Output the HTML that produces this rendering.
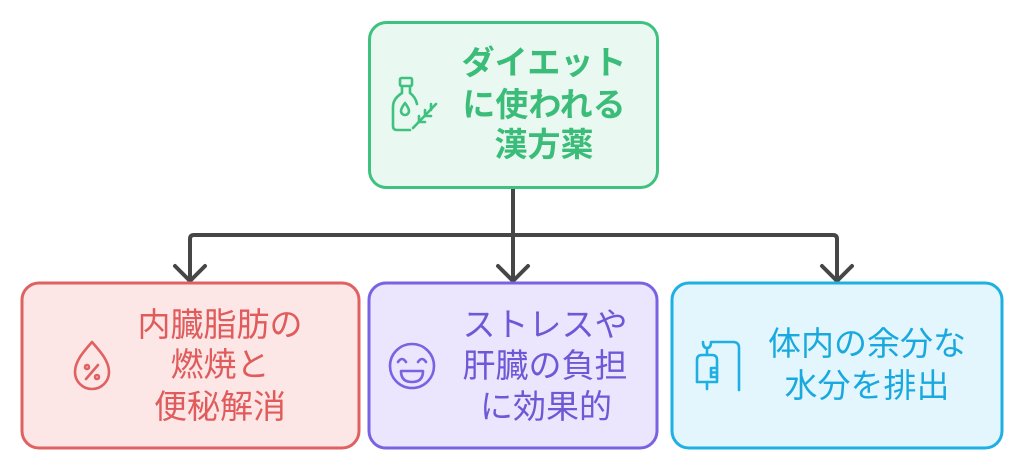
<!DOCTYPE html>
<html>
<head>
<meta charset="utf-8">
<style>
html,body{margin:0;padding:0;background:#ffffff;}
svg{display:block;}
text{font-family:"Liberation Sans","Noto Sans CJK JP",sans-serif;font-size:33px;}
</style>
</head>
<body>
<svg width="1024" height="475" viewBox="0 0 1024 475" xmlns="http://www.w3.org/2000/svg">
  <!-- connectors -->
  <g fill="none" stroke="#464646" stroke-width="4" stroke-linejoin="round" stroke-linecap="round">
    <line x1="513" y1="188" x2="513" y2="280"/>
    <path d="M190 280 V239 Q190 235 194 235 H833 Q837 235 837 239 V280"/>
    <polyline points="175,266 190,281 205,266"/>
    <polyline points="498,266 513,281 528,266"/>
    <polyline points="822,266 837,281 852,266"/>
  </g>

  <!-- top box -->
  <rect x="369.5" y="22.5" width="288" height="165" rx="17" fill="#e9f9f1" stroke="#3fc17f" stroke-width="3"/>
  <g fill="#3bbd79" font-weight="bold" text-anchor="middle">
    <text x="544" y="74">ダイエット</text>
    <text x="544" y="116">に使われる</text>
    <text x="544" y="156">漢方薬</text>
  </g>
  <!-- bottle icon -->
  <g fill="none" stroke="#3fc17f" stroke-width="2.6" stroke-linecap="round" stroke-linejoin="round">
    <rect x="400" y="78" width="12" height="8" rx="1.5"/>
    <path d="M402 86 V93 C396 97 393 101 393 107 V126 Q393 130 397 130 H410"/>
    <path d="M410 86 V93 C414 96 416 99 417 104"/>
    <path d="M405 103 C402 107 401 109 401 111 A4 4 0 0 0 409 111 C409 109 408 107 405 103 Z"/>
    <path d="M413 128 L436 104"/>
    <path d="M419 122 L419 116 M419 122 L425 122"/>
    <path d="M425 116 L425 110 M425 116 L431 116"/>
    <path d="M431 110 L431 104"/>
  </g>

  <!-- red box -->
  <rect x="22" y="283" width="337" height="165" rx="17" fill="#fde6e6" stroke="#e06161" stroke-width="3"/>
  <g fill="#e05b5b" text-anchor="middle">
    <text x="220" y="336">内臓脂肪の</text>
    <text x="220" y="376">燃焼と</text>
    <text x="220" y="418">便秘解消</text>
  </g>
  <g fill="none" stroke="#e06161" stroke-width="2.6" stroke-linecap="round" stroke-linejoin="round">
    <path d="M92 342 C86 349 75 360 75 372 A17 17 0 0 0 109 372 C109 360 98 349 92 342 Z"/>
    <circle cx="87" cy="367" r="2"/>
    <circle cx="97" cy="377" r="2"/>
    <line x1="98" y1="365" x2="86" y2="379"/>
  </g>

  <!-- purple box -->
  <rect x="369" y="283" width="288" height="165" rx="17" fill="#ebe6fd" stroke="#7a63e2" stroke-width="3"/>
  <g fill="#6f58d6" text-anchor="middle">
    <text x="545" y="336">ストレスや</text>
    <text x="545" y="377">肝臓の負担</text>
    <text x="546" y="418">に効果的</text>
  </g>
  <g fill="none" stroke="#7a63e2" stroke-width="2.6" stroke-linecap="round" stroke-linejoin="round">
    <circle cx="412" cy="366" r="22"/>
    <path d="M398 362 Q402 356 406 362"/>
    <path d="M418 362 Q422 356 426 362"/>
    <path d="M401 371 H423 Q423 382 412 382 Q401 382 401 371 Z"/>
  </g>

  <!-- blue box -->
  <rect x="672" y="283" width="330" height="165" rx="17" fill="#e3f6fd" stroke="#1eb0e2" stroke-width="3"/>
  <g fill="#1aa9de" text-anchor="middle">
    <text x="867" y="355">体内の余分な</text>
    <text x="867" y="397">水分を排出</text>
  </g>
  <g fill="none" stroke="#1eb0e2" stroke-width="2.6" stroke-linecap="round" stroke-linejoin="round">
    <path d="M703 342 Q703 348 707 348 Q711 348 711 342 H733 Q739 342 739 348 V390"/>
    <line x1="707" y1="348" x2="707" y2="355"/>
    <path d="M697 382 V360 Q697 355 702 355 H712 Q717 355 717 360 V382 Z"/>
    <line x1="707" y1="382" x2="707" y2="389"/>
    <path d="M711 368 H717 M711 372.5 H717 M711 377 H717 M711 368 V377"/>
  </g>
</svg>
</body>
</html>
